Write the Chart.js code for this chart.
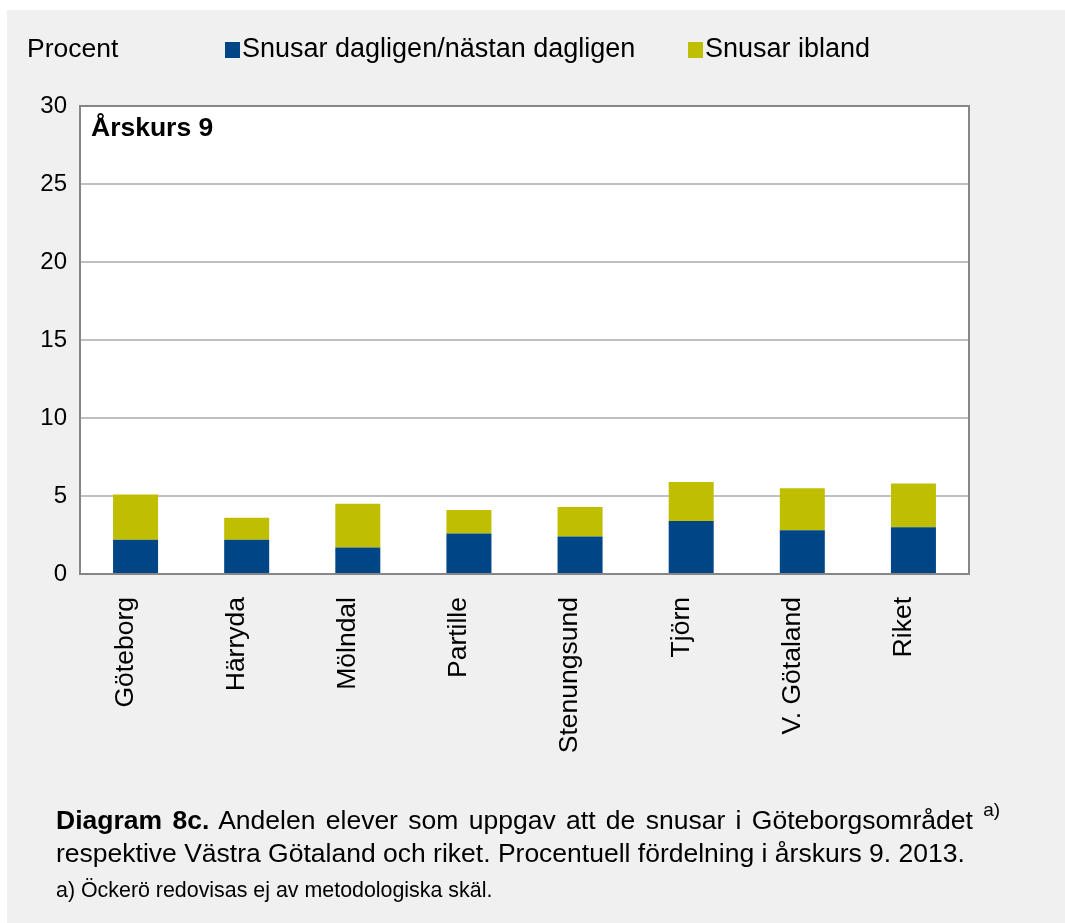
<!DOCTYPE html>
<html lang="sv">
<head>
<meta charset="UTF-8" />
<script src="https://cdn.jsdelivr.net/npm/chart.js@4.4.1/dist/chart.umd.min.js"></script>
<style>
  body { margin: 0; background: #fff; font-family: "Liberation Sans", Arial, sans-serif; }
  #panel { position: absolute; left: 7px; top: 10px; width: 1058px; height: 913px; background: #f0f0f0; }
  #chart { position: absolute; left: 0; top: 0; }
  .caption { position: absolute; left: 56px; color: #000; white-space: nowrap; line-height: 30px; }
  #cap1 { top: 805px; font-size: 26.5px; word-spacing: 3px; }
  #cap2 { top: 838px; font-size: 26.5px; }
  #cap1 sup { font-size: 19px; position: relative; top: -10px; vertical-align: top; word-spacing: 0; }
  #note { top: 877px; font-size: 21.4px; line-height: 26px; }
</style>
</head>
<body>
<div id="panel"></div>
<canvas id="chart" width="1065" height="923"></canvas>
<div class="caption" id="cap1"><b>Diagram 8c.</b> Andelen elever som uppgav att de snusar i Göteborgsområdet <sup>a)</sup></div>
<div class="caption" id="cap2">respektive Västra Götaland och riket. Procentuell fördelning i årskurs 9. 2013.</div>
<div class="caption" id="note">a) Öckerö redovisas ej av metodologiska skäl.</div>

<script>
  const areas = ['Göteborg', 'Härryda', 'Mölndal', 'Partille', 'Stenungsund', 'Tjörn', 'V. Götaland', 'Riket'];
  const dagligen = [2.2, 2.2, 1.7, 2.6, 2.4, 3.4, 2.8, 3.0];
  const ibland = [2.9, 1.4, 2.8, 1.5, 1.9, 2.5, 2.7, 2.8];
  const yTicks = [0, 5, 10, 15, 20, 25, 30];

  const FONT = '"Liberation Sans", Arial, sans-serif';

  // white plot background, frame, legend row and the panel heading
  const decor = {
    id: 'decor',
    beforeDraw(chart) {
      const { ctx, chartArea: a } = chart;
      ctx.save();
      ctx.fillStyle = '#fff';
      ctx.fillRect(a.left, a.top, a.right - a.left, a.bottom - a.top);
      ctx.restore();
    },
    afterDraw(chart) {
      const { ctx, chartArea: a } = chart;
      ctx.save();
      ctx.strokeStyle = '#868686';
      ctx.lineWidth = 2;
      ctx.strokeRect(a.left, a.top, a.right - a.left, a.bottom - a.top);

      ctx.fillStyle = '#000';
      ctx.textBaseline = 'middle';
      ctx.font = '26.5px ' + FONT;
      ctx.fillText('Procent', 27, 50);

      ctx.font = '27px ' + FONT;
      const items = [[225, chart.data.datasets[0]], [688, chart.data.datasets[1]]];
      items.forEach(([x, ds]) => {
        ctx.fillStyle = ds.backgroundColor;
        ctx.fillRect(x, 42, 15, 16);
        ctx.fillStyle = '#000';
        ctx.fillText(ds.label, x + 17, 50);
      });

      ctx.font = 'bold 26.5px ' + FONT;
      ctx.fillText('Årskurs 9', a.left + 11, a.top + 23);
      ctx.restore();
    }
  };

  new Chart(document.getElementById('chart'), {
    type: 'bar',
    data: {
      labels: areas,
      datasets: [
        { label: 'Snusar dagligen/nästan dagligen', data: dagligen, backgroundColor: '#004585' },
        { label: 'Snusar ibland', data: ibland, backgroundColor: '#bfbe00' }
      ]
    },
    options: {
      responsive: false,
      devicePixelRatio: 1,
      animation: false,
      layout: { padding: { top: 106, right: 96, left: 0, bottom: 0 } },
      datasets: { bar: { categoryPercentage: 1, barPercentage: 0.405 } },
      plugins: { legend: { display: false }, tooltip: { enabled: false } },
      scales: {
        x: {
          stacked: true,
          grid: { display: false },
          border: { color: '#868686', width: 2 },
          ticks: {
            color: '#000', font: { family: FONT, size: 26.5 },
            minRotation: 90, maxRotation: 90, padding: 15, labelOffset: -10
          },
          afterFit(scale) { scale.height = 349; }
        },
        y: {
          stacked: true,
          min: 0,
          max: 30,
          afterBuildTicks(scale) { scale.ticks = yTicks.map(v => ({ value: v })); },
          grid: { color: '#c0c0c0', lineWidth: 2, drawTicks: false },
          border: { color: '#868686', width: 2 },
          ticks: { color: '#000', font: { family: FONT, size: 24 }, padding: 13 },
          afterFit(scale) { scale.width = 80; }
        }
      }
    },
    plugins: [decor]
  });
</script>
</body>
</html>
